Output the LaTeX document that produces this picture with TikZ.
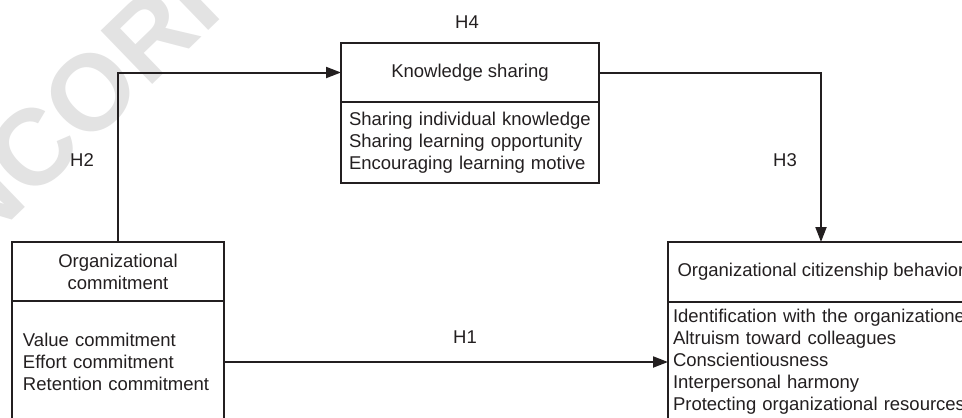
\documentclass[tikz,border=0pt]{standalone}
\usepackage{fontspec}
\setmainfont{Liberation Sans}
\usepackage{xcolor}
\usetikzlibrary{positioning,arrows.meta}
\definecolor{ink}{HTML}{231F20}
\definecolor{proofgray}{HTML}{E3E3E3}

\begin{document}
\begin{tikzpicture}[x=1pt,y=-1pt,font=\fontsize{18.5}{22}\selectfont,text=ink,
  headbox/.style={rectangle,draw=ink,line width=2pt,minimum height=59pt,align=center,inner sep=0pt,outer sep=0pt},
  listbox/.style={rectangle,draw=ink,line width=2pt,align=left,inner ysep=0pt,outer sep=0pt},
  arr/.style={draw=ink,line width=2pt,-{Triangle[length=15pt,width=11pt]}}]
\useasboundingbox (0,0) rectangle (962,418);
\clip (0,0) rectangle (962,418);
\node [rotate=44,anchor=base west,text=proofgray,font=\fontsize{108}{108}\selectfont\bfseries] (proof) at (-84,313) {UNCORRECTED PROOF};
\node [headbox,minimum width=258pt] (ks) at (470,72.5) {Knowledge sharing};
\node [listbox,below=0pt of ks,minimum height=81pt,text width=242pt,inner xsep=8pt] (ksitems)
{Sharing individual knowledge\\Sharing learning opportunity\\Encouraging learning motive};
\node [headbox,minimum width=212pt] (oc) at (118,271.5) {Organizational\\commitment};
\node [listbox,below=0pt of oc,minimum height=122pt,text width=190pt,inner xsep=11pt] (ocitems)
{Value commitment\\Effort commitment\\Retention commitment};
\node [headbox,minimum width=306pt,minimum height=60pt] (ocb) at (821,272) {Organizational citizenship behavior};
\node [listbox,below=0pt of ocb,minimum height=120pt,text width=296pt,inner xsep=5pt] (ocbitems)
{Identification with the organizatione\\Altruism toward colleagues\\Conscientiousness\\Interpersonal harmony\\Protecting organizational resources};
\node (h4) at (467,22) {H4};
\node (h2) at (82,160) {H2};
\node (h3) at (785,160) {H3};
\node (h1) at (465,337) {H1};
\draw [arr] (oc.north) |- (ks.west);
\draw [arr] (ks.east) -| (ocb.north);
\draw [arr] (ocitems.east) -- (ocbitems.west);
\end{tikzpicture}
\end{document}
